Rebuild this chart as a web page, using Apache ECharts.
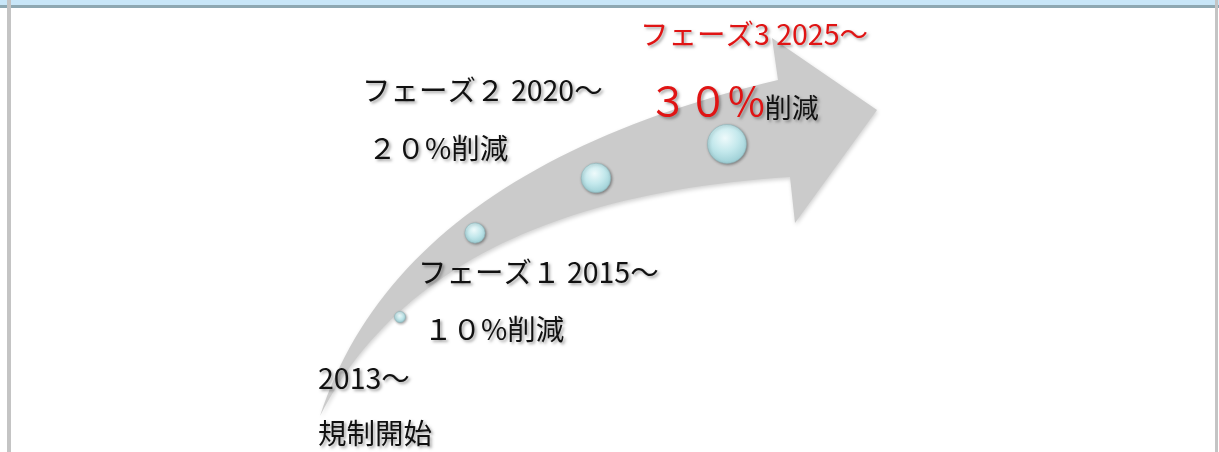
<!DOCTYPE html>
<html>
<head>
<meta charset="utf-8">
<script src="https://cdn.jsdelivr.net/npm/echarts@6/dist/echarts.min.js"></script>
<style>
  html, body { margin: 0; padding: 0; background: #fff; }
  #main { width: 1219px; height: 452px; }
</style>
</head>
<body>
<div id="main"></div>
<script>
// NOTE - Data

const stageYears = ['2013～', 'フェーズ１ 2015～', 'フェーズ２ 2020～', 'フェーズ3 2025～'];
const stageGoals = ['規制開始', '１０%削減', '２０%削減', '３０%'];
const cutRates = [0, 10, 20, 30];

// NOTE - Layout (stage units, 1 unit = 1px on the hidden axes)

const bubbleSpots = [[400, 317], [475, 233], [596, 178], [727, 144]];
const yearSpots = [[318, 378], [418, 272], [362, 90], [640, 34]];
const goalSpots = [[318, 433], [424, 329], [368, 148], [648, 101]];

// arrow = tail point, outer + inner edge (quadratic: control, end), then the head
const arrowTail = [320, 416];
const arrowOuter = [[400, 170], [778, 80]];
const arrowInner = [[430, 200], [790, 177]];
const arrowHead = [[772, 38], [877, 110], [795, 223]];

const FONT = '"Noto Sans CJK JP", "Noto Sans", sans-serif';
const shadow = {
  textShadowColor: 'rgba(0,0,0,0.35)',
  textShadowBlur: 3,
  textShadowOffsetX: 2,
  textShadowOffsetY: 2
};

function quad(p0, c, p1, t) {
  const u = 1 - t;
  return [
    u * u * p0[0] + 2 * u * t * c[0] + t * t * p1[0],
    u * u * p0[1] + 2 * u * t * c[1] + t * t * p1[1]
  ];
}

// NOTE - label items (years + goals)

const labelItems = [];
stageYears.forEach((t, i) => {
  labelItems.push({ value: yearSpots[i], text: t, red: i === 3 });
});
stageGoals.forEach((t, i) => {
  labelItems.push({ value: goalSpots[i], text: t, big: i === 3 });
});

// NOTE - eCharts Init

var myChart = echarts.init(document.getElementById('main'));

var option = {
  animation: false,
  grid: { left: 0, right: 0, top: 0, bottom: 0 },
  xAxis: { type: 'value', min: 0, max: 1219, show: false },
  yAxis: { type: 'value', min: 0, max: 452, inverse: true, show: false },
  graphic: [
    { type: 'rect', shape: { x: 0, y: 0, width: 1219, height: 6 }, style: { fill: '#c8e6f8' } },
    { type: 'rect', shape: { x: 0, y: 5, width: 1219, height: 3 }, style: { fill: '#8ea8b2' } },
    { type: 'rect', shape: { x: 7, y: 0, width: 4, height: 452 }, style: { fill: '#c4c4c4' } },
    { type: 'rect', shape: { x: 1215, y: 0, width: 3, height: 452 }, style: { fill: '#c4c4c4' } }
  ],
  series: [
    {
      // big curved arrow
      type: 'custom',
      z: 1,
      data: [[0, 0]],
      renderItem: function (params, api) {
        const pts = [];
        const n = 48;
        for (let i = 0; i <= n; i++) pts.push(quad(arrowTail, arrowOuter[0], arrowOuter[1], i / n));
        arrowHead.forEach(p => pts.push(p));
        for (let i = n; i >= 0; i--) pts.push(quad(arrowTail, arrowInner[0], arrowInner[1], i / n));
        return {
          type: 'polygon',
          shape: { points: pts.map(p => api.coord(p)) },
          style: {
            fill: '#cbcbcb',
            shadowColor: 'rgba(0,0,0,0.18)',
            shadowBlur: 4,
            shadowOffsetX: 1,
            shadowOffsetY: 2
          }
        };
      }
    },
    {
      // bubbles, size grows with the cut rate
      type: 'scatter',
      z: 3,
      data: bubbleSpots.map((p, i) => [p[0], p[1], cutRates[i]]),
      symbolSize: v => 11 + v[2] * 0.93,
      itemStyle: {
        opacity: 1,
        color: {
          type: 'radial', x: 0.45, y: 0.35, r: 0.7,
          colorStops: [
            { offset: 0, color: '#eefafb' },
            { offset: 0.5, color: '#c3e8ec' },
            { offset: 1, color: '#97cbd2' }
          ]
        },
        borderColor: '#8fb3b8',
        borderWidth: 0.6,
        shadowColor: 'rgba(0,0,0,0.4)',
        shadowBlur: 3,
        shadowOffsetX: 1,
        shadowOffsetY: 1
      }
    },
    {
      // texts
      type: 'custom',
      z: 5,
      data: labelItems,
      renderItem: function (params, api) {
        const it = labelItems[params.dataIndex];
        const c = api.coord(it.value);
        const style = Object.assign({
          x: c[0],
          y: c[1],
          verticalAlign: 'middle',
          align: 'left',
          font: '28.5px ' + FONT,
          fill: it.red ? '#e01414' : '#111'
        }, shadow);
        if (it.big) {
          style.text = '{b|' + it.text + '}{n|削減}';
          style.rich = {
            b: Object.assign({ font: '40px ' + FONT, fill: '#e01414' }, shadow),
            n: Object.assign({ font: '27px ' + FONT, fill: '#111', verticalAlign: 'bottom' }, shadow)
          };
        } else {
          style.text = it.text;
        }
        return { type: 'text', style: style };
      }
    }
  ]
};

myChart.setOption(option);
</script>
</body>
</html>
